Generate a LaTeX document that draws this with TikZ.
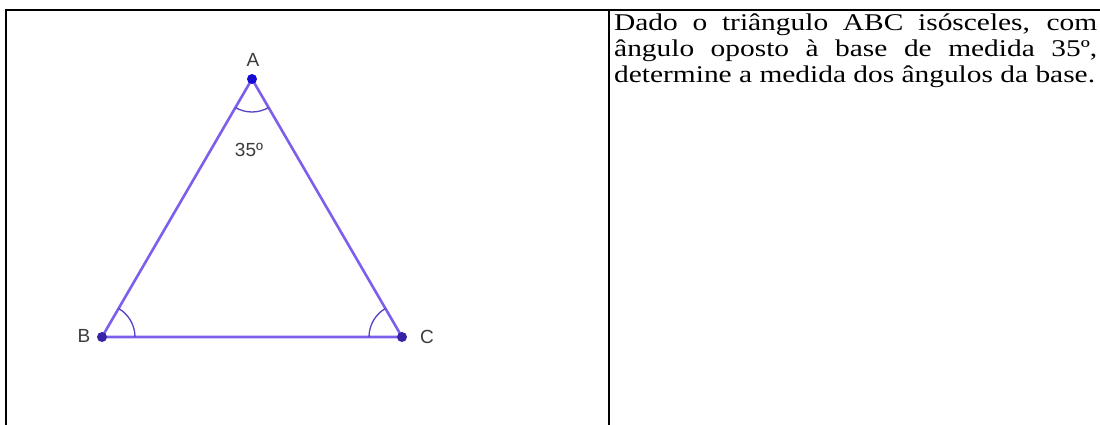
\documentclass[tikz,border=0pt]{standalone}
\usepackage{fontspec}
\setmainfont{Liberation Serif}
\newfontfamily\txtfont[FakeStretch=1.225]{Liberation Serif}
\newfontfamily\lblfont{Liberation Sans}
\definecolor{segcol}{RGB}{125,95,235}
\definecolor{ptcol}{RGB}{55,35,165}
\definecolor{ptAcol}{RGB}{20,10,210}
\definecolor{arccol}{RGB}{85,65,200}
\definecolor{lblcol}{RGB}{60,60,60}
\begin{document}
\begin{tikzpicture}[x=1pt,y=-1pt,
  frame/.style={line width=2pt,black},
  segment/.style={draw=segcol,line width=2.6pt},
  anglearc/.style={draw=arccol,line width=1.3pt},
  lbl/.style={font=\lblfont\fontsize{19}{21}\selectfont,text=lblcol,inner sep=0pt},
  txt/.style={font=\txtfont\fontsize{24}{28}\selectfont,inner sep=0pt,anchor=base west}]
\useasboundingbox (0,0) rectangle (1100,425);
\fill[white] (0,0) rectangle (1100,425);
% table frame
\draw[frame] (6,427) -- (6,10) -- (1102,10);
\draw[frame] (609,10) -- (609,427);
% triangle
\coordinate (A) at (252,79);
\coordinate (B) at (102,337);
\coordinate (C) at (402,337);
\draw[segment] (A) -- (B) -- (C) -- cycle;
\draw[anglearc] ([shift={(59.8:33)}]A) arc[start angle=59.8,end angle=120.2,radius=33];
\draw[anglearc] ([shift={(-59.8:33)}]B) arc[start angle=-59.8,end angle=0,radius=33];
\draw[anglearc] ([shift={(180:33)}]C) arc[start angle=180,end angle=239.8,radius=33];
\fill[ptAcol] (A) circle[radius=5];
\fill[ptcol] (B) circle[radius=5];
\fill[ptcol] (C) circle[radius=5];
\node[lbl] (lA) at (253,60) {A};
\node[lbl] (lB) at (84,336) {B};
\node[lbl] (lC) at (427,337) {C};
\node[lbl] (l35) at (249,150) {35º};
% text
\node[txt] (t1) at (614,31) {\makebox[483pt][s]{Dado o triângulo ABC isósceles, com}};
\node[txt] (t2) at (614,57) {\makebox[483pt][s]{ângulo oposto à base de medida 35º,}};
\node[txt] (t3) at (614,83) {determine a medida dos ângulos da base.};
\end{tikzpicture}
\end{document}
